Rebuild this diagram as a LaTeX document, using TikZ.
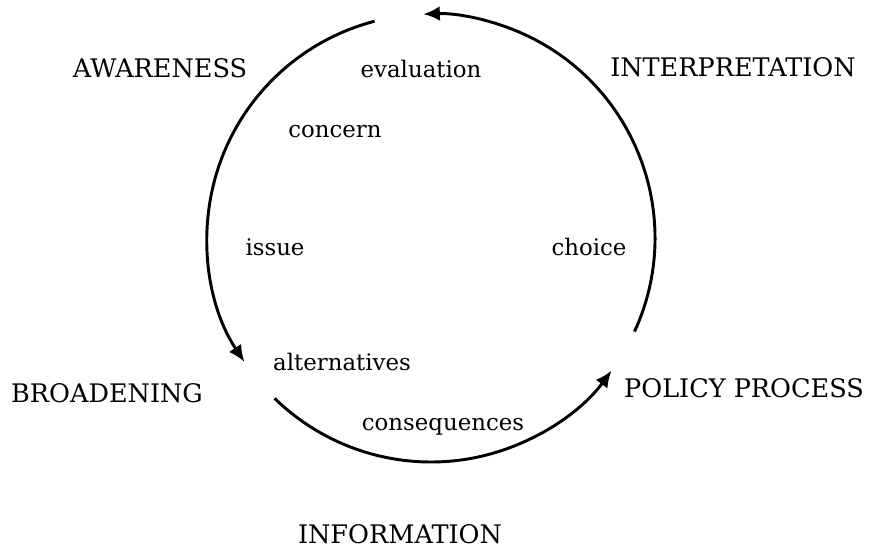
\documentclass[tikz,border=0pt]{standalone}
\usepackage{fontspec}
\setmainfont{DejaVu Serif}
\usepackage{tikz}
\usetikzlibrary{arrows.meta}

\tikzset{
  word/.style={font=\fontsize{19.5}{23}\selectfont, anchor=base, inner sep=0pt},
  stage/.style={word, font=\fontsize{21.8}{26}\selectfont},
  cycle/.style={line width=2.5pt, -{Latex[length=5mm, width=4.4mm]}}
}

\begin{document}
\begin{tikzpicture}
  \useasboundingbox (0,0) rectangle (26.16,16.44);
  \coordinate (c) at (12.93,9.30);

  % the three arcs of the cycle
  \foreach \a/\b in {104.6/213.6, 225.7/323.7, -24.7/92} {
    \draw[cycle] (c) ++(\a:6.72) arc[start angle=\a, end angle=\b, radius=6.72];
  }

  % stages, outside
  \node[stage] (aware)  at (4.80,14.10)  {AWARENESS};
  \node[stage] (interp) at (21.99,14.13) {INTERPRETATION};
  \node[stage] (broad)  at (3.21,4.38)   {BROADENING};
  \node[stage] (policy) at (22.32,4.53)  {POLICY PROCESS};
  \node[stage] (info)   at (12.00,0.15)  {INFORMATION};

  % steps, inside
  \node[word] (eval)   at (12.63,14.10) {evaluation};
  \node[word] (concern) at (10.05,12.33) {concern};
  \node[word] (issue)  at (8.25,8.79)   {issue};
  \node[word] (choice) at (17.67,8.79)  {choice};
  \node[word] (alt)    at (10.26,5.34)  {alternatives};
  \node[word] (conseq) at (13.29,3.54)  {consequences};
\end{tikzpicture}
\end{document}
